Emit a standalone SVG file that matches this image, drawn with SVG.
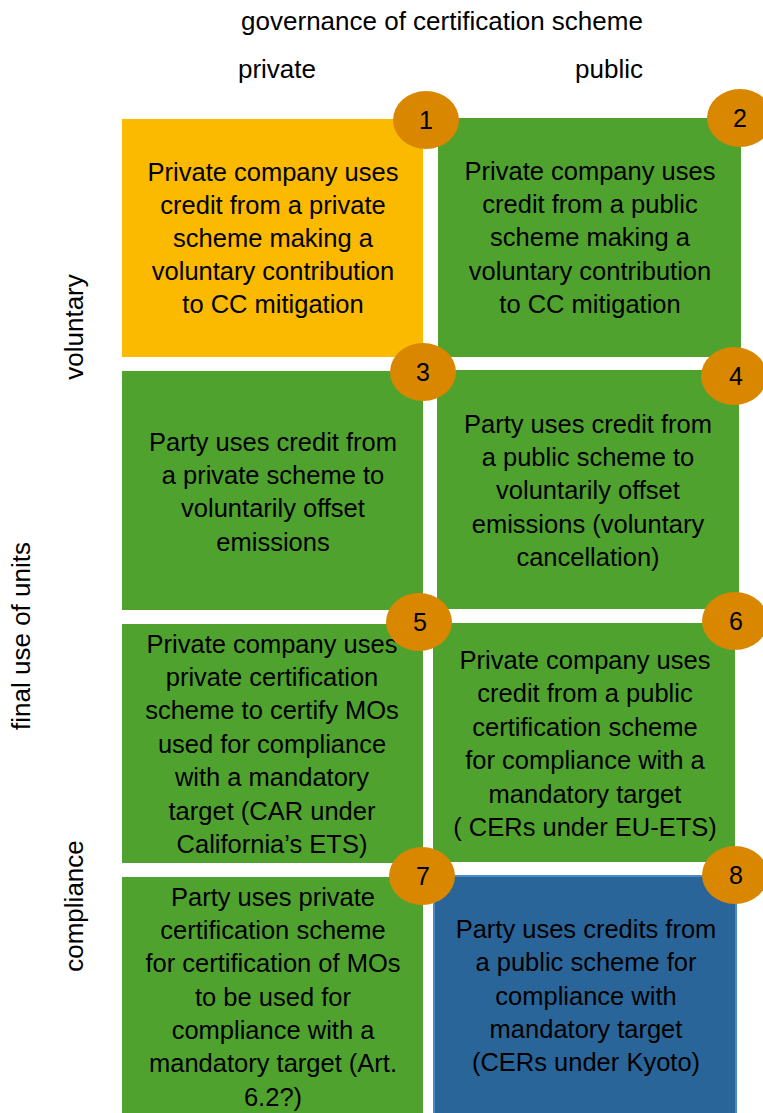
<svg xmlns="http://www.w3.org/2000/svg" width="763" height="1113" viewBox="0 0 763 1113">
<style>
text{font-family:"Liberation Sans",Arial,sans-serif;fill:#000;}
.lbl{font-size:25.5px;text-anchor:middle;}
.hdr{font-size:26px;text-anchor:middle;}
.num{font-size:25px;text-anchor:middle;}
.g{fill:#50a22e;}
.o{fill:#fbb900;}
.b{fill:#2a6599;stroke:#4a8ac8;stroke-width:2;}
.c{fill:#da8700;}
</style>
<rect width="763" height="1113" fill="#fff"/>
<g id="headers">
<text class="hdr" x="442" y="30">governance of certification scheme</text>
<text class="hdr" x="277" y="78">private</text>
<text class="hdr" x="609" y="78">public</text>
<text class="hdr" transform="translate(83,327) rotate(-90)">voluntary</text>
<text class="hdr" transform="translate(30,636) rotate(-90)">final use of units</text>
<text class="hdr" transform="translate(83,906) rotate(-90)">compliance</text>
</g>
<g id="node1">
<rect class="o" x="122" y="119" width="301" height="238"/>
<text class="lbl" x="273"><tspan x="273" y="181">Private company uses</tspan><tspan x="273" y="214">credit from a private</tspan><tspan x="273" y="247">scheme making a</tspan><tspan x="273" y="280">voluntary contribution</tspan><tspan x="273" y="313">to CC mitigation</tspan></text>
</g>
<g id="node2">
<rect class="g" x="438" y="118" width="303" height="239"/>
<text class="lbl" x="590"><tspan x="590" y="180">Private company uses</tspan><tspan x="590" y="213">credit from a public</tspan><tspan x="590" y="246">scheme making a</tspan><tspan x="590" y="280">voluntary contribution</tspan><tspan x="590" y="313">to CC mitigation</tspan></text>
</g>
<g id="node3">
<rect class="g" x="122" y="371" width="301" height="239"/>
<text class="lbl" x="273"><tspan x="273" y="451">Party uses credit from</tspan><tspan x="273" y="484">a private scheme to</tspan><tspan x="273" y="517">voluntarily offset</tspan><tspan x="273" y="551">emissions</tspan></text>
</g>
<g id="node4">
<rect class="g" x="437" y="370" width="302" height="239"/>
<text class="lbl" x="588"><tspan x="588" y="433">Party uses credit from</tspan><tspan x="588" y="466">a public scheme to</tspan><tspan x="588" y="499">voluntarily offset</tspan><tspan x="588" y="533">emissions (voluntary</tspan><tspan x="588" y="566">cancellation)</tspan></text>
</g>
<g id="node5">
<rect class="g" x="122" y="624" width="301" height="239"/>
<text class="lbl" x="272"><tspan x="272" y="653">Private company uses</tspan><tspan x="272" y="686">private certification</tspan><tspan x="272" y="719">scheme to certify MOs</tspan><tspan x="272" y="753">used for compliance</tspan><tspan x="272" y="786">with a mandatory</tspan><tspan x="272" y="820">target (CAR under</tspan><tspan x="272" y="853">California’s ETS)</tspan></text>
</g>
<g id="node6">
<rect class="g" x="433" y="623" width="302" height="239"/>
<text class="lbl" x="585"><tspan x="585" y="669">Private company uses</tspan><tspan x="585" y="702">credit from a public</tspan><tspan x="585" y="736">certification scheme</tspan><tspan x="585" y="769">for compliance with a</tspan><tspan x="585" y="803">mandatory target</tspan><tspan x="585" y="836">( CERs under EU-ETS)</tspan></text>
</g>
<g id="node7">
<rect class="g" x="122" y="877" width="301" height="240"/>
<text class="lbl" x="273"><tspan x="273" y="906">Party uses private</tspan><tspan x="273" y="939">certification scheme</tspan><tspan x="273" y="972">for certification of MOs</tspan><tspan x="273" y="1006">to be used for</tspan><tspan x="273" y="1039">compliance with a</tspan><tspan x="273" y="1072">mandatory target (Art.</tspan><tspan x="273" y="1106">6.2?)</tspan></text>
</g>
<g id="node8">
<rect class="b" x="434" y="876" width="302" height="240"/>
<text class="lbl" x="586"><tspan x="586" y="938">Party uses credits from</tspan><tspan x="586" y="971">a public scheme for</tspan><tspan x="586" y="1005">compliance with</tspan><tspan x="586" y="1038">mandatory target</tspan><tspan x="586" y="1071">(CERs under Kyoto)</tspan></text>
</g>
<g id="badges">
<ellipse class="c" cx="426" cy="120" rx="33" ry="29"/><text class="num" x="426" y="129">1</text>
<ellipse class="c" cx="740" cy="118" rx="33" ry="29"/><text class="num" x="740" y="127">2</text>
<ellipse class="c" cx="423" cy="372" rx="33" ry="29"/><text class="num" x="423" y="381">3</text>
<ellipse class="c" cx="734" cy="376" rx="33" ry="29"/><text class="num" x="736" y="385">4</text>
<ellipse class="c" cx="419" cy="622" rx="33" ry="29"/><text class="num" x="420" y="631">5</text>
<ellipse class="c" cx="735" cy="621" rx="33" ry="29"/><text class="num" x="736" y="630">6</text>
<ellipse class="c" cx="422" cy="876" rx="33" ry="29"/><text class="num" x="423" y="885">7</text>
<ellipse class="c" cx="735" cy="875" rx="33" ry="29"/><text class="num" x="736" y="884">8</text>
</g>
<g id="connectors"/>
</svg>
